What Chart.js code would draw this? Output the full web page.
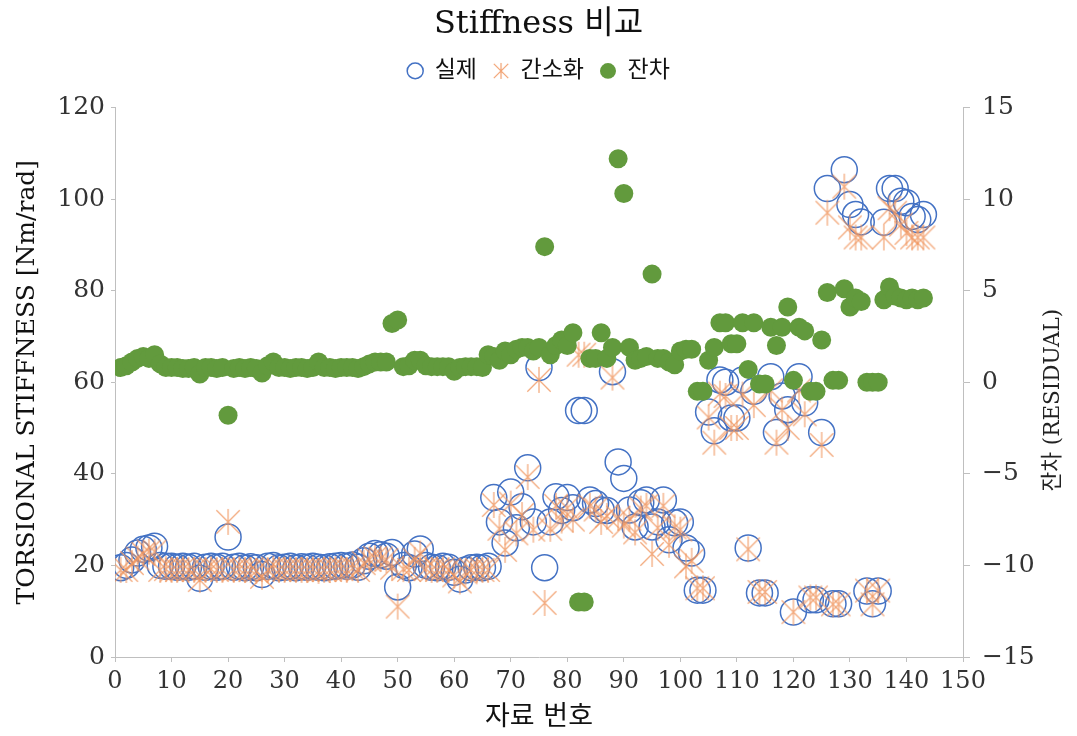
<!DOCTYPE html>
<html>
<head>
<meta charset="utf-8">
<script src="https://cdn.jsdelivr.net/npm/chart.js@4.4.1/dist/chart.umd.min.js"></script>
<style>
html,body{margin:0;padding:0;background:#fff;}
#wrap{width:1077px;height:736px;}
</style>
</head>
<body>
<div id="wrap"><canvas id="c" width="1077" height="736"></canvas></div>
<script>
// ---- data ----
const actualValues = [
 19.5,20,21.2,22.7,23.5,23.8,24.2,20,19.8,19.8,
 19.6,19.8,19.6,19.8,17.2,19.6,19.8,19.6,19.8,26.2,
 19.6,19.8,19.5,19.7,19.5,18,19.8,20,19.5,19.6,
 19.8,19.5,19.7,19.6,19.8,19.6,19.5,19.7,19.8,20,
 19.8,20.1,19.6,21,22,22.6,22.3,22,22.8,15.3,
 20,19.5,22.5,23.6,20,19.6,19.5,19.8,19.6,18.5,
 17,19,19.5,19.6,19.5,19.8,34.8,29.5,24.9,36,
 28.2,32.8,41.3,29.5,63.2,19.5,29.5,35,32,34.8,
 32.6,53.8,53.8,34.3,33.5,32.1,32,62.3,42.6,39,
 32.1,28.4,33.7,34.3,28.4,29.5,34.3,25.6,29.3,29.5,
 23.8,22.7,14.6,14.6,53.5,49.4,60.5,60,52.2,52.2,
 60.5,23.8,58,14,14,61.2,49,57,54,9.8,
 61.2,55.5,12.5,12.5,49,102.3,11.6,11.6,106.4,98.8,
 96.6,95,14.4,11.6,14.4,94.9,102.3,102.3,99.5,99.2,
 96.2,95.5,96.6
];
const simplifiedValues = [
 19,19,20.5,21.5,22.5,23,23,19,19.2,19,
 19,19.2,19,19,16.8,19,19.2,19,19,29.5,
 19,19.2,19,19,18.8,17.5,19,19.3,19,19,
 19.2,19,19,19,19.2,18.8,19,19,19.2,19.3,
 19,19.4,19,20.5,21.2,21.6,21.5,21.2,19.5,11,
 19.2,19,21.2,22.6,19.3,19,19,19.2,19,17.8,
 16.5,18.5,19,19,19,19,33.2,28,23.4,33.5,
 27,31,39.3,27.8,60.5,11.8,28,33,29.8,32.5,
 30,66,66,33,32.2,29.5,30.8,61,30.4,28.7,
 30.2,27.2,32.4,33,22.5,28.2,33,24.5,28.3,27.8,
 19.8,21,15,15,52.3,46.8,57.5,57,50,50,
 57.3,23.5,55,14.2,14.2,58.2,46.8,54,50,9.8,
 58.2,53,13,13,46.3,97,11.5,11.5,102.7,93.8,
 91.6,91.6,14.5,11.5,14.5,91.6,98,97,94.4,92.6,
 91.6,91.6,91.6
];
const residualValues = [
 0.8,0.9,1.1,1.3,1.4,1.3,1.5,1.0,0.8,0.8,
 0.8,0.75,0.75,0.8,0.45,0.8,0.8,0.75,0.8,-1.8,
 0.75,0.8,0.75,0.8,0.75,0.5,0.9,1.1,0.8,0.8,
 0.75,0.8,0.8,0.75,0.8,1.1,0.8,0.8,0.75,0.8,
 0.8,0.8,0.75,0.85,1.0,1.1,1.1,1.1,3.2,3.4,
 0.85,0.9,1.2,1.2,0.9,0.85,0.85,0.85,0.85,0.6,
 0.8,0.85,0.85,0.85,0.8,1.5,1.4,1.2,1.7,1.5,
 1.8,1.9,1.9,1.7,1.9,7.4,1.5,2.0,2.3,2.0,
 2.7,-12,-12,1.3,1.3,2.7,1.3,1.9,12.2,10.3,
 1.9,1.2,1.3,1.4,5.9,1.3,1.3,1.1,0.95,1.7,
 1.8,1.8,-0.5,-0.5,1.2,1.9,3.25,3.25,2.1,2.1,
 3.25,0.7,3.25,-0.1,-0.1,3.0,2.0,3.0,4.1,0.1,
 3.0,2.8,-0.5,-0.5,2.3,4.9,0.1,0.1,5.1,4.1,
 4.6,4.4,0.0,0.0,0.0,4.5,5.2,4.7,4.6,4.5,
 4.6,4.5,4.6
];
const seriesNames = ['실제', '간소화', '잔차'];
const chartTitle = 'Stiffness 비교';
const xTitle = '자료 번호';
const yTitle = 'TORSIONAL STIFFNESS [Nm/rad]';
const y2Title = '잔차 (RESIDUAL)';
const xTicks = {min: 0, max: 150, step: 10};
const yTicks = {min: 0, max: 120, step: 20};
const y2Ticks = {min: -15, max: 15, step: 5};

// ---- helpers ----
const FONT = "'DejaVu Serif', 'Noto Sans CJK KR', serif";
const toPoints = arr => arr.map((v, i) => ({x: i + 1, y: v}));

function makeStar(size, color, lw) {
  const c = document.createElement('canvas');
  c.width = c.height = size;
  const g = c.getContext('2d');
  const m = size / 2, r = size / 2 - 1;
  g.strokeStyle = color; g.lineWidth = lw;
  g.beginPath();
  g.moveTo(m, m - r); g.lineTo(m, m + r);
  const d = r * 0.9;
  g.moveTo(m - d, m - d); g.lineTo(m + d, m + d);
  g.moveTo(m + d, m - d); g.lineTo(m - d, m + d);
  g.stroke();
  return c;
}
const starBig = makeStar(28, 'rgba(240,150,95,0.8)', 1.3);
const starSmall = makeStar(18, 'rgba(240,150,95,0.9)', 1.2);

const rightTitlePlugin = {
  id: 'rightTitle',
  afterDraw(chart) {
    const ctx = chart.ctx;
    const area = chart.chartArea;
    ctx.save();
    ctx.translate(1053, (area.top + area.bottom) / 2 + 18);
    ctx.rotate(-Math.PI / 2);
    ctx.font = "21.5px " + FONT;
    ctx.fillStyle = '#222';
    ctx.textAlign = 'center';
    ctx.textBaseline = 'middle';
    ctx.fillText(y2Title, 0, 0);
    ctx.restore();
  }
};

const minusFmt = v => (v < 0 ? '\u2212' + Math.abs(v) : String(v));

new Chart(document.getElementById('c'), {
  type: 'scatter',
  data: {
    datasets: [
      {
        label: seriesNames[0], data: toPoints(actualValues), yAxisID: 'y', order: 2,
        pointStyle: 'circle', pointRadius: 13, pointHoverRadius: 13,
        borderColor: '#4472C4', backgroundColor: 'rgba(0,0,0,0)', borderWidth: 1.5
      },
      {
        label: seriesNames[1], data: toPoints(simplifiedValues), yAxisID: 'y', order: 1,
        pointStyle: starBig, pointRadius: 13,
        borderColor: 'rgba(240,150,95,0.8)', backgroundColor: 'rgba(0,0,0,0)', borderWidth: 1.3
      },
      {
        label: seriesNames[2], data: toPoints(residualValues), yAxisID: 'y2', order: 0,
        pointStyle: 'circle', pointRadius: 9.5, pointHoverRadius: 9.5,
        borderColor: '#629A3D', backgroundColor: '#629A3D', borderWidth: 0
      }
    ]
  },
  options: {
    responsive: false,
    animation: false,
    devicePixelRatio: 1,
    layout: {padding: 0},
    plugins: {
      tooltip: {enabled: false},
      title: {
        display: true, text: chartTitle, color: '#111',
        font: {family: FONT, size: 32, weight: 'normal'},
        padding: {top: 5, bottom: 0}
      },
      subtitle: {
        display: true, text: ' ', weight: 500,
        font: {size: 10, lineHeight: 1}, padding: {top: 0, bottom: 5}
      },
      legend: {
        display: true, position: 'top',
        labels: {
          usePointStyle: true, boxHeight: 11, pointStyleWidth: 16,
          padding: 16, color: '#111',
          font: {family: FONT, size: 23},
          sort: (a, b) => a.datasetIndex - b.datasetIndex,
          generateLabels(chart) {
            const items = Chart.defaults.plugins.legend.labels.generateLabels(chart);
            items.forEach(it => { if (it.datasetIndex === 1) it.pointStyle = starSmall; });
            return items;
          }
        }
      }
    },
    scales: {
      x: {
        type: 'linear', position: 'bottom',
        min: xTicks.min, max: xTicks.max,
        ticks: {stepSize: xTicks.step, color: '#333', font: {family: FONT, size: 24}, padding: 5, maxRotation: 0},
        grid: {display: true, drawOnChartArea: false, drawTicks: true, tickLength: 5, color: '#BFBFBF'},
        border: {display: true, color: '#BFBFBF', width: 1},
        title: {display: true, text: xTitle, color: '#111', font: {family: FONT, size: 27}, padding: {top: 0, bottom: 2}},
        afterFit(s) { s.height = 79; }
      },
      y: {
        type: 'linear', position: 'left',
        min: yTicks.min, max: yTicks.max,
        ticks: {stepSize: yTicks.step, color: '#333', font: {family: FONT, size: 25}, padding: 6},
        grid: {display: true, drawOnChartArea: false, drawTicks: true, tickLength: 4, color: '#BFBFBF'},
        border: {display: true, color: '#BFBFBF', width: 1},
        title: {display: true, text: yTitle, color: '#111', font: {family: FONT, size: 25}, padding: {top: 12, bottom: 0}},
        afterFit(s) { s.width = 115; }
      },
      y2: {
        type: 'linear', position: 'right',
        min: y2Ticks.min, max: y2Ticks.max,
        ticks: {stepSize: y2Ticks.step, color: '#333', font: {family: FONT, size: 25}, padding: 12, callback: v => minusFmt(v)},
        grid: {display: true, drawOnChartArea: false, drawTicks: true, tickLength: 7, color: '#BFBFBF'},
        border: {display: true, color: '#BFBFBF', width: 1},
        title: {display: false},
        afterFit(s) { s.width = 114; }
      }
    }
  },
  plugins: [rightTitlePlugin]
});
</script>
</body>
</html>
